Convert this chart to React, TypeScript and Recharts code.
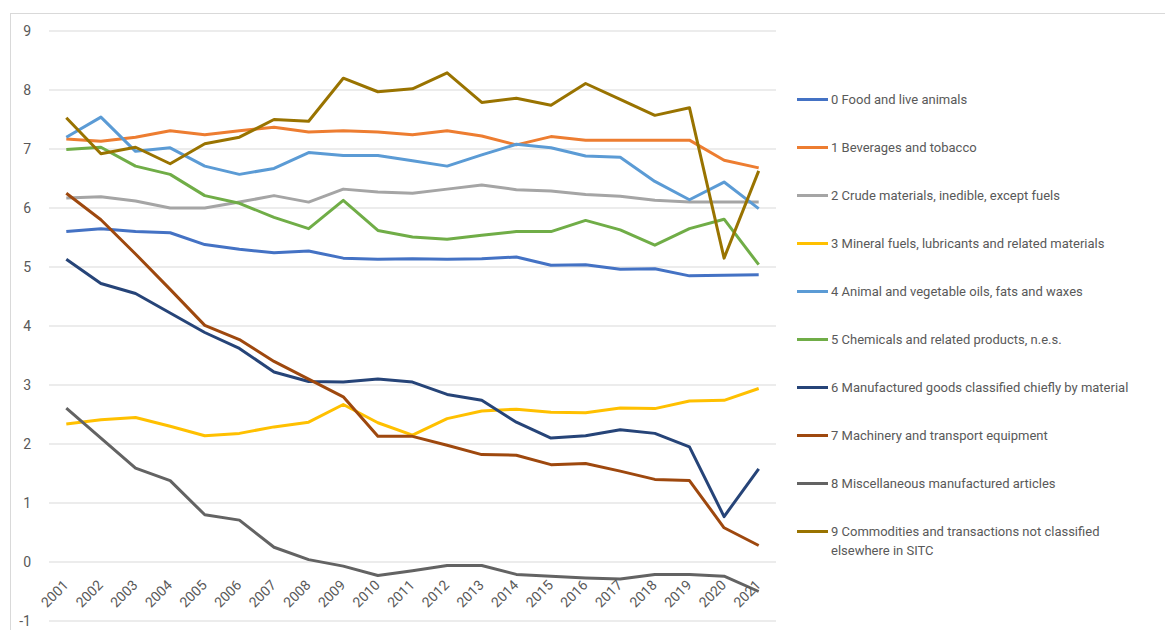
import React from 'react';
import { LineChart, Line, XAxis, YAxis, CartesianGrid, Legend } from 'recharts';

const years = [
  '2001', '2002', '2003', '2004', '2005', '2006', '2007', '2008', '2009', '2010', '2011',
  '2012', '2013', '2014', '2015', '2016', '2017', '2018', '2019', '2020', '2021',
];

const food = [5.6, 5.65, 5.6, 5.58, 5.38, 5.3, 5.24, 5.27, 5.15, 5.13, 5.14, 5.13, 5.14, 5.17, 5.03, 5.04, 4.96, 4.97, 4.85, 4.86, 4.87];
const beverages = [7.17, 7.13, 7.2, 7.31, 7.24, 7.31, 7.37, 7.29, 7.31, 7.29, 7.24, 7.31, 7.22, 7.07, 7.21, 7.15, 7.15, 7.15, 7.15, 6.81, 6.68];
const crude = [6.17, 6.19, 6.12, 6.0, 6.0, 6.1, 6.21, 6.1, 6.32, 6.27, 6.25, 6.32, 6.39, 6.31, 6.29, 6.23, 6.2, 6.13, 6.1, 6.1, 6.1];
const mineralFuels = [2.34, 2.41, 2.45, 2.3, 2.14, 2.18, 2.29, 2.37, 2.67, 2.36, 2.15, 2.43, 2.56, 2.59, 2.54, 2.53, 2.61, 2.6, 2.73, 2.74, 2.94];
const oils = [7.2, 7.54, 6.96, 7.02, 6.71, 6.57, 6.67, 6.94, 6.89, 6.89, 6.8, 6.71, 6.9, 7.08, 7.02, 6.88, 6.86, 6.45, 6.14, 6.44, 5.99];
const chemicals = [6.99, 7.03, 6.71, 6.57, 6.21, 6.08, 5.84, 5.65, 6.13, 5.62, 5.51, 5.47, 5.54, 5.6, 5.6, 5.79, 5.63, 5.37, 5.65, 5.81, 5.04];
const manufactured = [5.13, 4.72, 4.55, 4.22, 3.89, 3.62, 3.22, 3.06, 3.05, 3.1, 3.05, 2.84, 2.74, 2.37, 2.1, 2.14, 2.24, 2.18, 1.95, 0.77, 1.58];
const machinery = [6.25, 5.8, 5.22, 4.62, 4.01, 3.77, 3.4, 3.1, 2.8, 2.13, 2.13, 1.98, 1.82, 1.81, 1.65, 1.67, 1.54, 1.4, 1.38, 0.58, 0.28];
const miscellaneous = [2.61, 2.1, 1.59, 1.38, 0.8, 0.71, 0.25, 0.04, -0.07, -0.23, -0.15, -0.06, -0.06, -0.21, -0.24, -0.27, -0.29, -0.21, -0.21, -0.24, -0.5];
const commodities = [7.53, 6.92, 7.03, 6.75, 7.09, 7.2, 7.5, 7.47, 8.2, 7.97, 8.02, 8.29, 7.79, 7.86, 7.74, 8.11, 7.84, 7.57, 7.7, 5.15, 6.63];

const seriesNames = [
  '0 Food and live animals',
  '1 Beverages and tobacco',
  '2 Crude materials, inedible, except fuels',
  '3 Mineral fuels, lubricants and related materials',
  '4 Animal and vegetable oils, fats and waxes',
  '5 Chemicals and related products, n.e.s.',
  '6 Manufactured goods classified chiefly by material',
  '7 Machinery and transport equipment',
  '8 Miscellaneous manufactured articles',
  '9 Commodities and transactions not classified elsewhere in SITC',
];
const seriesValues = [food, beverages, crude, mineralFuels, oils, chemicals, manufactured, machinery, miscellaneous, commodities];
const seriesColors = ['#4472C4', '#ED7D31', '#A5A5A5', '#FFC000', '#5B9BD5', '#70AD47', '#264478', '#9E480E', '#636363', '#997300'];

const yTicks = [-1, 0, 1, 2, 3, 4, 5, 6, 7, 8, 9];

const data = years.map((year, i) => {
  const row: Record<string, string | number> = { year };
  seriesValues.forEach((vals, s) => {
    row['s' + s] = vals[i];
  });
  return row;
});

const WIDTH = 1165;
const HEIGHT = 630;
const LEGEND_W = 368;
// legend on the right reserves its own width, so the margin only covers the rest
const MARGIN = { top: 31, right: 389 - LEGEND_W, bottom: 0, left: 0 };
const X_AXIS_H = 9;
const PLOT_H = HEIGHT - MARGIN.top - MARGIN.bottom - X_AXIS_H;
// category labels sit just under the 0 line, like Excel's crossing axis
const ZERO_Y = MARGIN.top + (PLOT_H * 9) / 10;
// half a category of padding each side, so points sit mid-category like Excel
const HALF_BAND = 17.3;
const FONT = 'Roboto, "Open Sans", sans-serif';
const TEXT = '#595959';

function YearTick(props: any) {
  const { x, payload } = props;
  const tx = x + 3;
  const ty = ZERO_Y + 24;
  return (
    <text
      x={tx}
      y={ty}
      textAnchor="end"
      transform={`rotate(-45, ${tx}, ${ty})`}
      fill={TEXT}
      fontSize={14}
      fontFamily={FONT}
    >
      {payload.value}
    </text>
  );
}

function LegendList(props: any) {
  const { payload } = props;
  return (
    <div style={{ fontFamily: FONT, fontSize: 13, color: TEXT, lineHeight: '19px' }}>
      {(payload || []).map((item: any) => (
        <div key={item.value} style={{ display: 'flex', alignItems: 'flex-start', marginBottom: 29 }}>
          <span
            style={{
              display: 'inline-block',
              width: 31,
              height: 3,
              marginTop: 8,
              marginRight: 3,
              background: item.color,
              flexShrink: 0,
            }}
          />
          <span style={{ width: 330 }}>{item.value}</span>
        </div>
      ))}
    </div>
  );
}

export default function App() {
  return (
    <div style={{ position: 'absolute', left: 0, top: 0, width: WIDTH, height: HEIGHT, overflow: 'hidden', background: '#fff' }}>
      <div
        style={{
          position: 'absolute',
          left: 10,
          top: 13,
          width: 1200,
          height: 700,
          border: '1px solid #D9D9D9',
        }}
      />
      <LineChart width={WIDTH} height={HEIGHT} data={data} margin={MARGIN}>
        <CartesianGrid vertical={false} stroke="#D9D9D9" strokeWidth={1} />
        <XAxis
          dataKey="year"
          height={X_AXIS_H}
          interval={0}
          padding={{ left: HALF_BAND, right: HALF_BAND }}
          axisLine={false}
          tickLine={false}
          tick={<YearTick />}
        />
        <YAxis
          width={49}
          domain={[-1, 9]}
          ticks={yTicks}
          axisLine={false}
          tickLine={false}
          tickMargin={12}
          tick={{ fill: TEXT, fontSize: 14, fontFamily: FONT }}
        />
        <Legend
          layout="vertical"
          verticalAlign="top"
          align="right"
          content={<LegendList />}
          wrapperStyle={{ position: 'absolute', left: 797, top: 90, width: LEGEND_W }}
        />
        {seriesNames.map((name, s) => (
          <Line
            key={name}
            type="linear"
            dataKey={'s' + s}
            name={name}
            stroke={seriesColors[s]}
            strokeWidth={3}
            dot={false}
            activeDot={false}
            strokeLinejoin="round"
            isAnimationActive={false}
          />
        ))}
      </LineChart>
    </div>
  );
}
